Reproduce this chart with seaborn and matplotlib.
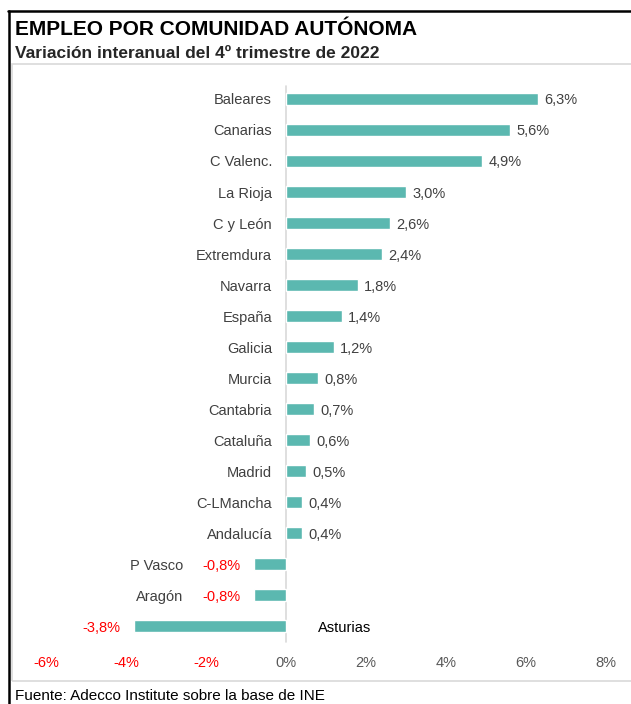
import matplotlib
matplotlib.use("Agg")
import matplotlib.pyplot as plt
from matplotlib.lines import Line2D
from matplotlib.patches import Rectangle
import seaborn as sns
import pandas as pd

regions = ["Baleares", "Canarias", "C Valenc.", "La Rioja", "C y León", "Extremdura",
           "Navarra", "España", "Galicia", "Murcia", "Cantabria", "Cataluña", "Madrid",
           "C-LMancha", "Andalucía", "P Vasco", "Aragón", "Asturias"]
values = [6.3, 5.6, 4.9, 3.0, 2.6, 2.4, 1.8, 1.4, 1.2, 0.8, 0.7, 0.6, 0.5, 0.4, 0.4,
          -0.8, -0.8, -3.8]
xticks = [-6, -4, -2, 0, 2, 4, 6, 8]
xtick_labels = ["-6%", "-4%", "-2%", "0%", "2%", "4%", "6%", "8%"]

title = "EMPLEO POR COMUNIDAD AUTÓNOMA"
subtitle = "Variación interanual del 4º trimestre de 2022"
footer = "Fuente: Adecco Institute sobre la base de INE"

sns.set_theme(style="white")
plt.rcParams["font.family"] = ["Liberation Sans", "DejaVu Sans"]

W, H = 631, 704
fig = plt.figure(figsize=(W / 100, H / 100), dpi=100)
fig.patch.set_facecolor("white")

def fx(px):
    return px / W

def fy(py):
    return 1 - py / H

# axes: x from 26 to 626 px, y from 80 to 645 px
ax = fig.add_axes([fx(26), fy(645), fx(626) - fx(26), fy(80) - fy(645)])
df = pd.DataFrame({"region": regions, "valor": values})
sns.barplot(data=df, x="valor", y="region", orient="h", color="#5BB8B0",
            saturation=1, width=0.38, ax=ax)
ax.set_xlim(-6.5, 8.5)
ax.set_ylim(17.6, -0.61)
for s in ax.spines.values():
    s.set_visible(False)
ax.set_xlabel("")
ax.set_ylabel("")
ax.set_yticks([])
ax.set_xticks(xticks)
ax.set_xticklabels(xtick_labels)
ax.tick_params(axis="x", length=0, pad=8, labelsize=10.5)
for lab, v in zip(ax.get_xticklabels(), xticks):
    lab.set_color("#FF0000" if v < 0 else "#595959")
ax.axvline(0, ymin=0.005, ymax=0.99, color="#d9d9d9", lw=1.2, zorder=0)

txt = "#404040"
fs = 10.5
for i, (r, v) in enumerate(zip(regions, values)):
    lbl = f"{v:.1f}".replace(".", ",") + "%"
    if v >= 0:
        ax.annotate(r, (0, i), xytext=(-10, 0), textcoords="offset points",
                    ha="right", va="center_baseline", fontsize=fs, color=txt)
        ax.annotate(lbl, (v, i), xytext=(4.5, 0), textcoords="offset points",
                    ha="left", va="center_baseline", fontsize=fs, color=txt)
    else:
        ax.annotate(lbl, (v, i), xytext=(-9.5, 0), textcoords="offset points",
                    ha="right", va="center_baseline", fontsize=fs, color="#FF0000")
        if v > -2:
            ax.annotate(r, (v, i), xytext=(-51, 0), textcoords="offset points",
                        ha="right", va="center_baseline", fontsize=fs, color=txt)
        else:
            ax.annotate(r, (0, i), xytext=(23, 0), textcoords="offset points",
                        ha="left", va="center_baseline", fontsize=fs, color="black")

# frame lines
fig.add_artist(Line2D([fx(8), fx(631)], [fy(11), fy(11)], color="black", lw=1.8))
fig.add_artist(Line2D([fx(9), fx(9)], [fy(11), fy(704)], color="black", lw=1.8))
fig.add_artist(Rectangle((fx(12), fy(681)), fx(640) - fx(12), fy(64) - fy(681),
                         transform=fig.transFigure, fill=False,
                         edgecolor="#d9d9d9", lw=1.2))

fig.text(fx(15), fy(35), title, fontsize=15, fontweight="bold", color="black",
         ha="left", va="baseline")
fig.text(fx(15), fy(58), subtitle, fontsize=12.5, fontweight="bold", color="#262626",
         ha="left", va="baseline")
fig.text(fx(15), fy(700), footer, fontsize=11, color="black", ha="left", va="baseline")

fig.savefig("out.png", dpi=100)
